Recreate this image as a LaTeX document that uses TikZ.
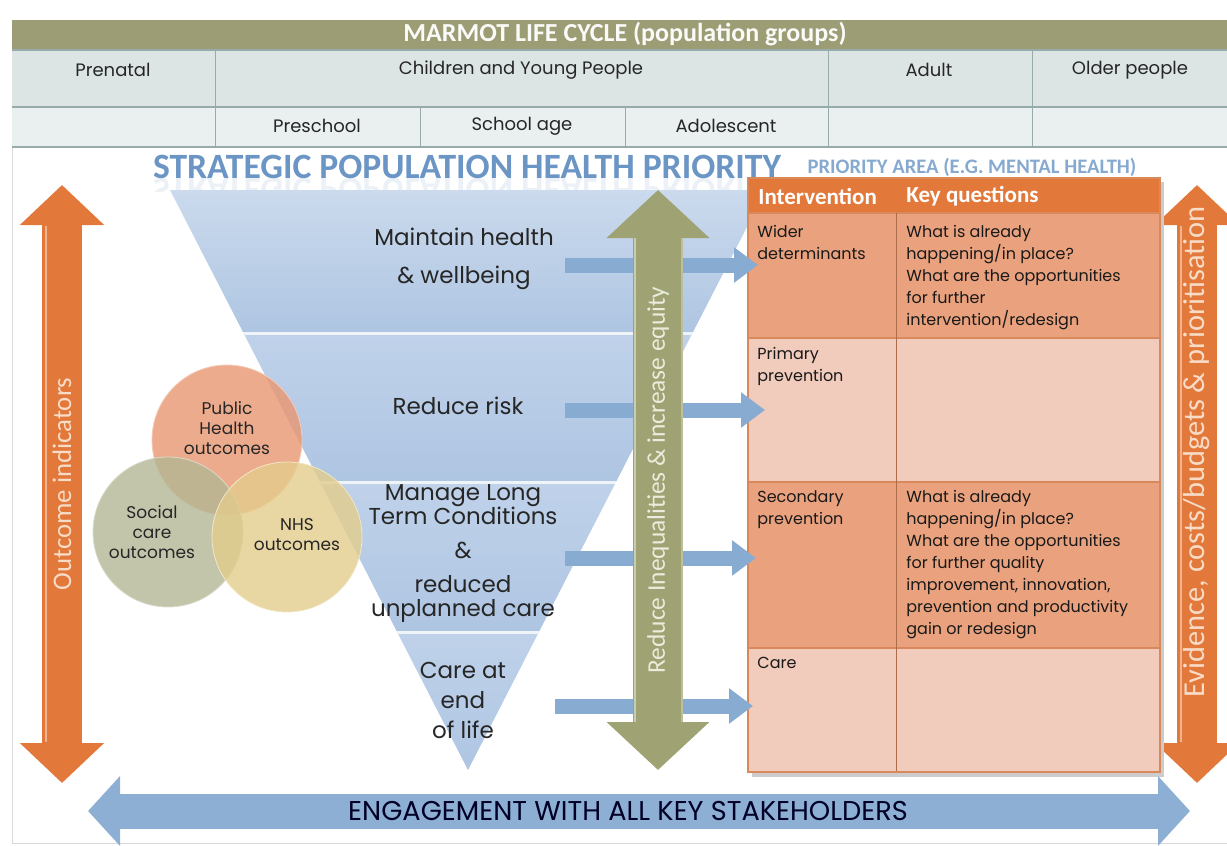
\documentclass[tikz,border=0pt]{standalone}
\usepackage{fontspec}
\setmainfont{Poppins}
\newfontfamily\hdrfont{Carlito}
\usetikzlibrary{arrows.meta, math}

\definecolor{olivebar}{HTML}{9C9D74}
\definecolor{rowone}{HTML}{DCE4E4}
\definecolor{rowtwo}{HTML}{EAF0F0}
\definecolor{gridline}{HTML}{98ABAB}
\definecolor{titleblue}{HTML}{6A95C4}
\definecolor{areablue}{HTML}{86A9D0}
\definecolor{funneltop}{HTML}{CBDAED}
\definecolor{funnelmid}{HTML}{C0D2EA}
\definecolor{funnelblue}{HTML}{AEC5E2}
\definecolor{arrowblue}{HTML}{88ABD1}
\definecolor{engageblue}{HTML}{8DAFD4}
\definecolor{orangedark}{HTML}{E2793A}
\definecolor{orangemid}{HTML}{EAA27E}
\definecolor{orangelight}{HTML}{F1CBBB}
\definecolor{orangeline}{HTML}{D9885C}
\definecolor{orangetext}{HTML}{F8DCC8}
\definecolor{olivearrow}{HTML}{9FA273}
\definecolor{olivetext}{HTML}{EAECDC}
\definecolor{phorange}{HTML}{E99670}
\definecolor{scgreen}{HTML}{B4B795}
\definecolor{nhsyellow}{HTML}{E3CD8C}

\begin{document}
\begin{tikzpicture}[x=0.5pt, y=-0.5pt,
	cycletxt/.style={font=\hdrfont\bfseries\fontsize{13}{15}\selectfont, text=white!95!olivebar},
	lctxt/.style={font=\fontsize{9}{11}\selectfont, text=black!85},
	prioritytxt/.style={font=\hdrfont\bfseries\fontsize{17.8}{20}\selectfont, text=titleblue, inner sep=0pt},
	areatxt/.style={font=\hdrfont\bfseries\fontsize{10.3}{12}\selectfont, text=areablue, inner sep=0pt},
	funneltxt/.style={font=\fontsize{11.5}{12}\selectfont, text=black!85, align=center},
	venn/.style={circle, minimum size=75pt, inner sep=0pt, fill opacity=0.8, draw=white!50!#1, fill=#1},
	venntxt/.style={font=\fontsize{8.5}{10}\selectfont, text=black!85, align=center},
	headtxt/.style={font=\hdrfont\bfseries\fontsize{11.5}{13}\selectfont, text=white, anchor=west, inner sep=0pt},
	celltxt/.style={font=\fontsize{8}{11}\selectfont, text=black!90, anchor=north west, align=left, inner sep=0pt},
	sidetxt/.style={font=\hdrfont\fontsize{#1}{16}\selectfont, rotate=90},
	orangearrow/.style={draw=orangedark, line width=20pt, {Triangle[width=41pt, length=20pt]}-{Triangle[width=41pt, length=20pt]}},
	olivearr/.style={draw=olivearrow, line width=25pt, {Triangle[width=50pt, length=24pt]}-{Triangle[width=50pt, length=24pt]}},
	bluearrow/.style={draw=arrowblue, line width=7.5pt, -{Triangle[width=17pt, length=12pt]}},
	engagearrow/.style={draw=engageblue, line width=17.5pt, {Triangle[width=34pt, length=16pt]}-{Triangle[width=34pt, length=16pt]}},
	engagetxt/.style={font=\fontsize{13.6}{15}\selectfont, text=black!85!blue}
	]
	\useasboundingbox (0,0) rectangle (1227,846);
	\draw[black!15] (12,20) -- (12,843) -- (1227,843);
	
	% life cycle
	\fill[olivebar] (12,20) rectangle (1227,50);
	\fill[rowone] (12,50) rectangle (1227,107);
	\fill[rowtwo] (12,107) rectangle (1227,147);
	\foreach \y in {50, 107, 147} \draw[gridline, semithick] (12,\y) -- (1227,\y);
	\foreach \x in {215, 828, 1032} \draw[gridline] (\x,50) -- (\x,147);
	\foreach \x in {420, 625} \draw[gridline] (\x,107) -- (\x,147);
	\node[cycletxt] (cycle) at (625,34) {MARMOT LIFE CYCLE (population groups)};
	\node[lctxt] (prenatal) at (113,70) {Prenatal};
	\node[lctxt] (cyp) at (521,70) {Children and Young People};
	\node[lctxt] (adult) at (929,70) {Adult};
	\node[lctxt] (older) at (1130,70) {Older people};
	\node[lctxt] (preschool) at (317,126) {Preschool};
	\node[lctxt] (school) at (522,126) {School age};
	\node[lctxt] (adolescent) at (726,126) {Adolescent};
	
	% priority titles
	\node[prioritytxt, anchor=base] (priority) at (467,178) {STRATEGIC POPULATION HEALTH PRIORITY};
	\begin{scope}
		\clip (140,178) rectangle (790,191);
		\node[prioritytxt, anchor=base, yscale=-1, transform shape, opacity=0.13] at (467,178) {STRATEGIC POPULATION HEALTH PRIORITY};
	\end{scope}
	\node[areatxt, anchor=base] (area) at (972,173) {PRIORITY AREA (E.G. MENTAL HEALTH)};
	
	% funnel
	\tikzmath{
		function lx(\y) {
			return 170 + 0.51379*(\y - 190);
		};
		function rx(\y) {
			return 766 - 0.51379*(\y - 190);
		};
	}
	\foreach \ya/\yb/\col in {190/333/funneltop, 333/482/funnelmid, 482/632/funnelmid, 632/770/funnelmid} {
		\tikzmath{\la = lx(\ya); \ra = rx(\ya); \lb = lx(\yb); \rb = rx(\yb);}
		\shade[top color=\col, bottom color=funnelblue] (\la,\ya) -- (\ra,\ya) -- (\rb,\yb) -- (\lb,\yb) -- cycle;
	}
	\foreach \yb in {333, 482, 632} {
		\tikzmath{\lb = lx(\yb); \rb = rx(\yb);}
		\draw[white!80!funnelblue, line width=1.5pt] (\lb,\yb) -- (\rb,\yb);
	}
	\node[funneltxt] (maintain) at (464,259) {Maintain health\\[7pt]\& wellbeing};
	\node[funneltxt] (risk) at (458,406) {Reduce risk};
	\node[funneltxt] (ltc) at (463,553) {Manage Long\\Term Conditions\\[5pt]\&\\[5pt]reduced\\unplanned care};
	\node[funneltxt] (eol) at (463,700) {Care at\\[3pt]end\\[3pt]of life};
	
	% outcomes
	\node[venn=phorange] (ph) at (227,440) {};
	\node[venn=scgreen] (sc) at (168,532) {};
	\node[venn=nhsyellow] (nhs) at (287,537) {};
	\node[venntxt] (phtxt) at ([yshift=6pt]ph.center) {Public\\Health\\outcomes};
	\node[venntxt] (sctxt) at ([xshift=-8pt]sc.center) {Social\\care\\outcomes};
	\node[venntxt] (nhstxt) at ([xshift=5pt, yshift=1pt]nhs.center) {NHS\\outcomes};
	
	% side arrows
	\coordinate (oi1) at (62,185);
	\coordinate (oi2) at (62,783);
	\draw[orangearrow] (oi2) -- node[sidetxt=13.4, text=orangetext] (outcome) {Outcome indicators} (oi1);
	\draw[white!45!orangedark, line width=1pt] (46,226) -- (46,742);
	
	\coordinate (ev1) at (1197,185);
	\coordinate (ev2) at (1197,783);
	\draw[orangearrow] (ev2) -- node[sidetxt=15.2, pos=0.554, text=orangetext] (evidence) {Evidence, costs/budgets \& prioritisation} (ev1);
	\draw[white!45!orangedark, line width=1pt] (1181,226) -- (1181,742);
	
	% intervention table
	\coordinate (tbl) at (748,178);
	\fill[black!20] (752,182) rectangle (1164,777);
	\fill[orangedark] (748,178) rectangle (1160,213);
	\foreach \ya/\yb/\col in {213/338/orangemid, 338/482/orangelight, 482/648/orangemid, 648/772/orangelight}
		\fill[\col] (748,\ya) rectangle (1160,\yb);
	\foreach \y in {213, 338, 482, 648} \draw[orangeline, semithick] (748,\y) -- (1160,\y);
	\draw[orangeline!80!black] (896,213) -- (896,772);
	\draw[orangeline, semithick] (748,178) rectangle (1160,772);
	\node[headtxt] (intervention) at (758,196) {Intervention};
	\node[headtxt] (keyq) at (906,196) {Key questions};
	\node[celltxt] (wider) at (757,225) {Wider\\determinants};
	\node[celltxt] (widerq) at (906,225) {What is already\\happening/in place?\\What are the opportunities\\for further\\intervention/redesign};
	\node[celltxt] (primary) at (757,347) {Primary\\prevention};
	\node[celltxt] (secondary) at (757,490) {Secondary\\prevention};
	\node[celltxt] (secondaryq) at (906,490) {What is already\\happening/in place?\\What are the opportunities\\for further quality\\improvement, innovation,\\prevention and productivity\\gain or redesign};
	\node[celltxt] (care) at (757,657) {Care};
	
	% links to table
	\foreach \n/\xa/\ya/\dx in {1/565/265/5, 2/565/410/8.5, 3/565/558/4, 4/555/706/2.5} {
		\coordinate (arr\n) at (\xa,\ya);
		\draw[bluearrow] (arr\n) -- ([xshift=\dx pt]arr\n -| tbl);
	}
	
	% equity arrow over the links
	\coordinate (eq1) at (658,190);
	\coordinate (eq2) at (658,770);
	\draw[olivearr] (eq2) -- node[sidetxt=12.7, text=olivetext] (equity) {Reduce Inequalities \& increase equity} (eq1);
	\draw[white!45!olivearrow, line width=1pt] (635,238) -- (635,722);
	\draw[white!30!olivearrow, line width=0.6pt] (682,238) -- (682,722);
	
	% stakeholders
	\coordinate (en1) at (88,811);
	\coordinate (en2) at (1190,811);
	\draw[engagearrow] (en1) -- node[engagetxt, pos=0.49] (engage) {ENGAGEMENT WITH ALL KEY STAKEHOLDERS} (en2);
\end{tikzpicture}
\end{document}
